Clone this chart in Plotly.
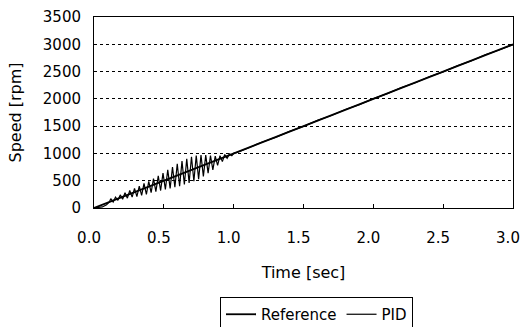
import plotly.graph_objects as go

# Reference speed command (linear ramp)
ref_time = [0.0, 3.0]
ref_speed = [0, 3000]

# PID response (oscillation peaks/troughs, then tracking)
pid_time = [0.000, 0.030, 0.060, 0.090, 0.110,
            0.120, 0.137, 0.154, 0.171, 0.188, 0.205, 0.222, 0.239, 0.256, 0.273,
            0.290, 0.307, 0.324, 0.341, 0.358, 0.375, 0.392, 0.409, 0.426, 0.443,
            0.460, 0.477, 0.494, 0.511, 0.528, 0.545, 0.562, 0.579, 0.596, 0.613,
            0.630, 0.647, 0.664, 0.681, 0.698, 0.715, 0.732, 0.749, 0.766, 0.783,
            0.800, 0.817, 0.834, 0.851, 0.868, 0.885, 0.902, 0.919, 0.936, 0.953,
            0.970, 0.987, 1.004, 1.020, 1.100, 1.200, 1.300, 1.400, 1.500, 1.600,
            1.700, 1.800, 1.900, 2.000, 2.100, 2.200, 2.300, 2.400, 2.500, 2.600,
            2.700, 2.800, 2.900, 3.000]
pid_speed = [0, 5, 20, 60, 110,
             170, 110, 200, 140, 240, 160, 280, 180, 320, 200,
             360, 210, 400, 230, 450, 250, 490, 280, 540, 300,
             590, 320, 640, 340, 700, 360, 750, 380, 810, 400,
             860, 430, 900, 460, 940, 490, 960, 530, 970, 580,
             970, 640, 960, 700, 950, 780, 960, 850, 980, 910,
             990, 960, 1010, 1015, 1095, 1205, 1295, 1405, 1495, 1605,
             1695, 1805, 1895, 2005, 2095, 2205, 2295, 2405, 2495, 2605,
             2695, 2805, 2895, 2990]

x_ticks = [0.0, 0.5, 1.0, 1.5, 2.0, 2.5, 3.0]
y_ticks = [0, 500, 1000, 1500, 2000, 2500, 3000, 3500]

FONT = "DejaVu Sans"

fig = go.Figure()
fig.add_trace(go.Scatter(x=ref_time, y=ref_speed, mode="lines", name="Reference",
                         line=dict(color="black", width=1.8)))
fig.add_trace(go.Scatter(x=pid_time, y=pid_speed, mode="lines", name="PID",
                         line=dict(color="black", width=1.2)))

fig.update_layout(
    width=522, height=327,
    margin=dict(l=94, r=9, t=17, b=119, autoexpand=False),
    paper_bgcolor="white", plot_bgcolor="white",
    font=dict(family=FONT, size=15, color="black"),
    showlegend=True,
    legend=dict(orientation="h", x=0.531, xanchor="center",
                yref="container", y=1 - 297 / 327, yanchor="top",
                bordercolor="black", borderwidth=1, bgcolor="white",
                font=dict(family=FONT, size=15, color="black"),
                itemwidth=30, tracegroupgap=0),
    xaxis=dict(range=[-0.0001, 3.0001], tickvals=x_ticks, tickformat=".1f",
               ticks="inside", ticklen=4, tickcolor="black",
               tickfont=dict(family=FONT, size=15, color="black"),
               ticklabelstandoff=16, ticklabelshift=-5,
               automargin=False, ticklabeloverflow="allow",
               showline=True, linecolor="black", linewidth=1, mirror=True,
               showgrid=False, zeroline=False,
               title=dict(text="Time [sec]", standoff=20,
                          font=dict(family=FONT, size=16, color="black"))),
    yaxis=dict(range=[0, 3500], tickvals=y_ticks,
               ticks="", automargin=False,
               tickfont=dict(family=FONT, size=15, color="black"),
               showline=True, linecolor="black", linewidth=1, mirror=True,
               showgrid=True, gridcolor="black", gridwidth=1, griddash="3px,3px",
               zeroline=False, ticklabelstandoff=9,
               title=dict(text="Speed [rpm]", standoff=17,
                          font=dict(family=FONT, size=16, color="black"))),
)

fig.write_html("out.html")
